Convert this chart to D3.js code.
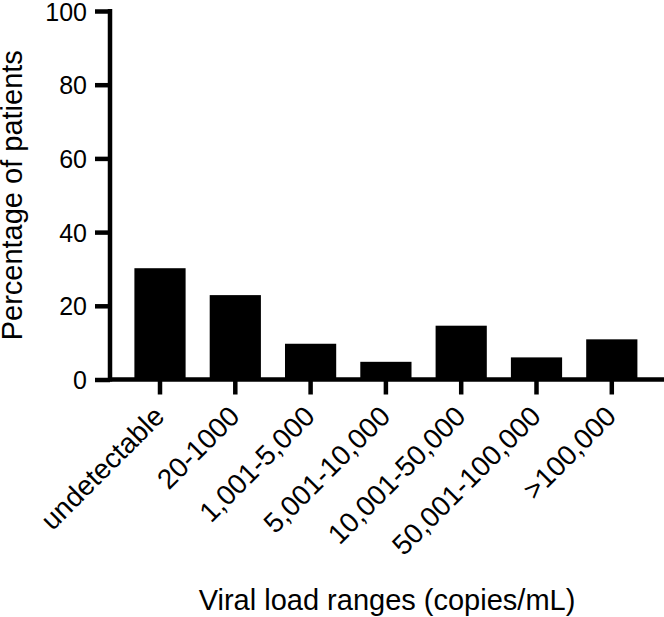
<!DOCTYPE html>
<html>
<head>
<meta charset="utf-8">
<script src="https://cdn.jsdelivr.net/npm/d3@7"></script>
<style>
  html, body { margin: 0; padding: 0; background: #fff; }
  svg { display: block; }
  text { font-family: Arial, "Liberation Sans", Helvetica, sans-serif; fill: #000; }
</style>
</head>
<body>
<svg id="chart" width="664" height="617"></svg>
<script>
const categories = ["undetectable", "20-1000", "1,001-5,000", "5,001-10,000", "10,001-50,000", "50,001-100,000", ">100,000"];
const values = [30.2, 22.9, 9.7, 4.8, 14.6, 6.0, 10.9];
const yTicks = [0, 20, 40, 60, 80, 100];
const xTitle = "Viral load ranges (copies/mL)";
const yTitle = "Percentage of patients";

const svg = d3.select("#chart");
const W = 664, H = 617;
const axisX = 110, axisRight = 664;
const y0 = 379.5, y100 = 11;

const y = d3.scaleLinear().domain([0, 100]).range([y0, y100]);
const step = 75.3;
const x = d3.scaleBand()
  .domain(categories)
  .range([160 - step / 2, 160 - step / 2 + step * categories.length])
  .paddingInner(0.32)
  .paddingOuter(0.16);

// Bars
svg.append("g").selectAll("rect")
  .data(categories)
  .join("rect")
  .attr("x", d => x(d))
  .attr("width", x.bandwidth())
  .attr("y", (d, i) => y(values[i]))
  .attr("height", (d, i) => y(0) - y(values[i]))
  .attr("fill", "#000");

// Y axis
const yAxis = d3.axisLeft(y).tickValues(yTicks).tickSize(15).tickPadding(8).tickSizeOuter(0);
const gy = svg.append("g").attr("transform", `translate(${axisX},0)`).call(yAxis);
gy.select(".domain").attr("stroke", "#000").attr("stroke-width", 4.5)
  .attr("d", `M0,${y(100) - 2}V${y(0) + 2}`);
gy.selectAll(".tick line").attr("stroke", "#000").attr("stroke-width", 4.5);
gy.selectAll(".tick text").style("font-size", "25px").attr("font-family", null).attr("dy", "0.36em");

// X axis
const xAxis = d3.axisBottom(x).tickSize(15).tickSizeOuter(0).tickFormat("");
const gx = svg.append("g").attr("transform", `translate(0,${y0})`).call(xAxis);
gx.select(".domain").attr("stroke", "#000").attr("stroke-width", 4.5)
  .attr("d", `M${axisX - 2},0H${axisRight}`);
gx.selectAll(".tick line").attr("stroke", "#000").attr("stroke-width", 4.5);

// X labels rotated
svg.append("g").selectAll("text")
  .data(categories)
  .join("text")
  .attr("text-anchor", "end")
  .attr("transform", d => `translate(${x(d) + x.bandwidth() / 2 + 6},${418}) rotate(-45)`)
  .style("font-size", "28px")
  .text(d => d);

// Axis titles
svg.append("text")
  .attr("x", (axisX + axisRight) / 2)
  .attr("y", 610)
  .attr("text-anchor", "middle")
  .style("font-size", "29px")
  .text(xTitle);

svg.append("text")
  .attr("transform", `translate(22,${(y0 + y100) / 2}) rotate(-90)`)
  .attr("text-anchor", "middle")
  .style("font-size", "29px")
  .text(yTitle);
</script>
</body>
</html>
